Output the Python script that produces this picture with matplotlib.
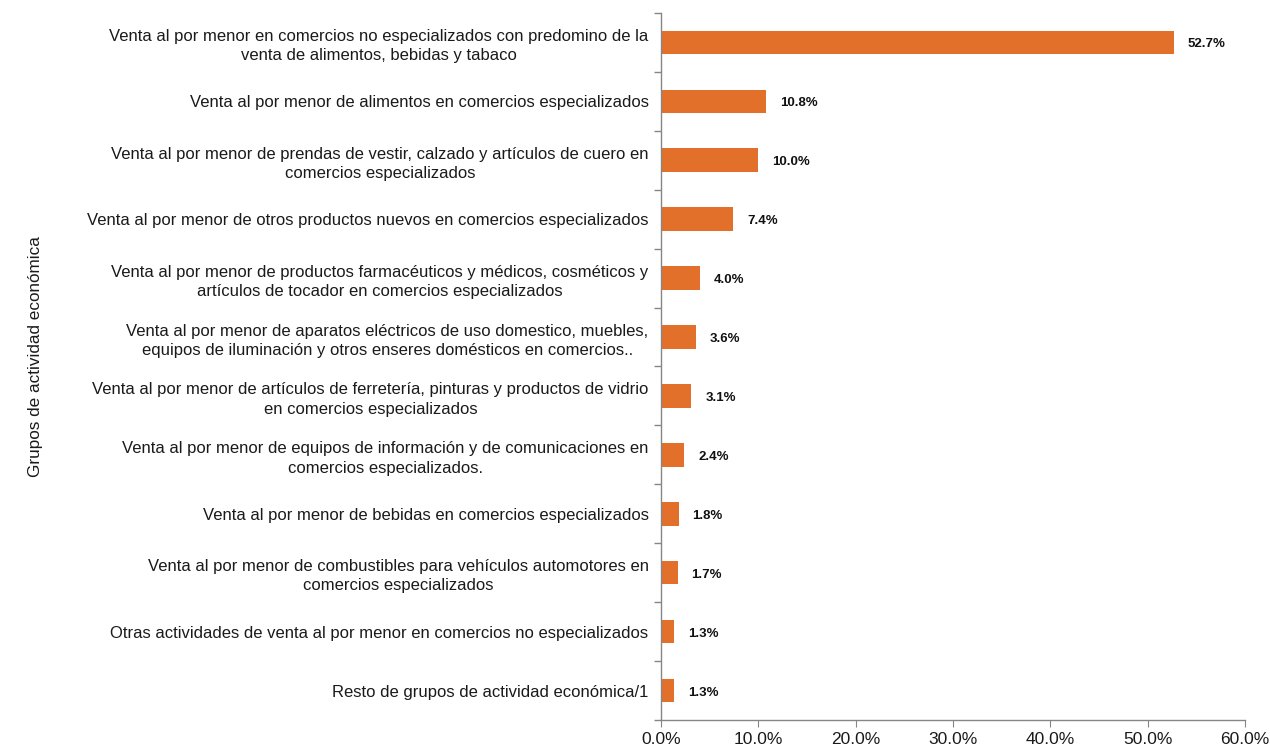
import numpy as np
import matplotlib.pyplot as plt
from matplotlib.ticker import FuncFormatter, FixedLocator

plt.rcParams['font.family'] = ['Liberation Sans', 'DejaVu Sans']

categorias = [
    "Venta al por menor en comercios no especializados con predomino de la\nventa de alimentos, bebidas y tabaco",
    "Venta al por menor de alimentos en comercios especializados",
    "Venta al por menor de prendas de vestir, calzado y artículos de cuero en\ncomercios especializados",
    "Venta al por menor de otros productos nuevos en comercios especializados",
    "Venta al por menor de productos farmacéuticos y médicos, cosméticos y\nartículos de tocador en comercios especializados",
    "Venta al por menor de aparatos eléctricos de uso domestico, muebles,\nequipos de iluminación y otros enseres domésticos en comercios..",
    "Venta al por menor de artículos de ferretería, pinturas y productos de vidrio\nen comercios especializados",
    "Venta al por menor de equipos de información y de comunicaciones en\ncomercios especializados.",
    "Venta al por menor de bebidas en comercios especializados",
    "Venta al por menor de combustibles para vehículos automotores en\ncomercios especializados",
    "Otras actividades de venta al por menor en comercios no especializados",
    "Resto de grupos de actividad económica/1",
]
porcentajes = [52.7, 10.8, 10.0, 7.4, 4.0, 3.6, 3.1, 2.4, 1.8, 1.7, 1.3, 1.3]

color_barra = '#E2702A'
gris = '#868686'

fig = plt.figure(figsize=(12.7, 7.5), dpi=100)
ax = fig.add_axes([0.5205, 0.04, 0.4598, 0.9427])

n = len(categorias)
pos = np.arange(n)
ax.barh(pos, porcentajes, height=0.4, color=color_barra)
ax.set_ylim(n - 0.5, -0.5)
ax.set_xlim(0, 60)

ax.set_yticks(pos)
ax.set_yticklabels(categorias, fontsize=12, color='#1a1a1a', multialignment='center',
                   linespacing=1.35)
ax.tick_params(axis='y', which='major', length=0, pad=9)
ax.yaxis.set_minor_locator(FixedLocator(np.arange(-0.5, n, 1)))
ax.tick_params(axis='y', which='minor', length=5, color=gris, width=1)

ax.set_xticks(np.arange(0, 61, 10))
ax.xaxis.set_major_formatter(FuncFormatter(lambda v, p: f"{v:.1f}%"))
ax.tick_params(axis='x', length=5, color=gris, labelsize=12.5, pad=4, labelcolor='#1a1a1a')

for s in ['top', 'right']:
    ax.spines[s].set_visible(False)
for s in ['left', 'bottom']:
    ax.spines[s].set_color(gris)
    ax.spines[s].set_linewidth(1)

for y, v in zip(pos, porcentajes):
    ax.annotate(f"{v:.1f}%", (v, y), xytext=(14, -2), textcoords='offset pixels',
                va='center', ha='left', fontsize=9.5, fontweight='bold', color='#111111')

fig.text(0.028, 0.524, "Grupos de actividad económica", rotation=90,
         ha='center', va='center', fontsize=12.3, color='#1a1a1a')

fig.savefig('out.png', dpi=100)
